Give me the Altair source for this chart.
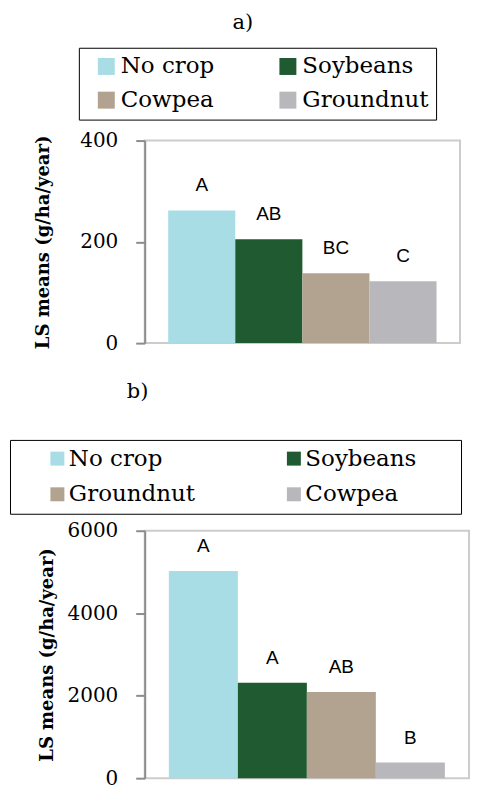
import altair as alt
import pandas as pd

# ---- data ----
crops_a = ["No crop", "Soybeans", "Cowpea", "Groundnut"]
means_a = [262, 205, 138, 122]
letters_a = ["A", "AB", "BC", "C"]

crops_b = ["No crop", "Soybeans", "Groundnut", "Cowpea"]
means_b = [5025, 2315, 2090, 380]
letters_b = ["A", "A", "AB", "B"]

ticks_a = [0, 200, 400]
ticks_b = [0, 2000, 4000, 6000]

palette = ["#a9dde6", "#1f5a31", "#b1a390", "#b8b8bc"]

SERIF = "DejaVu Serif"
SANS = "Liberation Sans"
YTITLE = "LS means (g/ha/year)"


def panel(crops, means, letters, ymax, ticks, width, height, title, title_dx,
          title_offset, leg_x, leg_y, sym_off, col_pad, sym_size, lab_off,
          title_pad, row_pad, wide_box):
    df = pd.DataFrame({"crop": crops, "mean": means, "letter": letters})
    # legend is filled column by column: reorder so it reads row by row
    leg_order = [crops[0], crops[2], crops[1], crops[3]]
    leg_colors = [palette[0], palette[2], palette[1], palette[3]]
    x = alt.X("crop:N", sort=crops, axis=None,
              scale=alt.Scale(paddingInner=0, paddingOuter=0.35))
    y = alt.Y("mean:Q", scale=alt.Scale(domain=[0, ymax], nice=False),
              axis=alt.Axis(values=ticks, format="d", title=YTITLE,
                            titleFont=SERIF, titleFontSize=18,
                            titleFontWeight="bold", titleColor="black",
                            titlePadding=title_pad,
                            labelFont=SERIF, labelFontSize=20,
                            labelColor="black", labelPadding=18,
                            tickSize=9, tickWidth=2, tickColor="#8c8c8c",
                            domainColor="#8c8c8c", domainWidth=2,
                            grid=False))
    leg_kw = dict(orient="none", legendX=leg_x, legendY=leg_y, columns=2,
                  symbolType="square", symbolSize=sym_size,
                  symbolStrokeWidth=0, symbolOpacity=1, symbolOffset=sym_off,
                  labelFont=SERIF, labelFontSize=23, labelColor="black",
                  labelOffset=lab_off, labelLimit=700, columnPadding=col_pad,
                  rowPadding=row_pad, padding=7, strokeColor="black")
    if wide_box:
        # invisible spacer title widens the frame towards the page edge
        leg_kw.update(title="M", titleOrient="right", titleOpacity=0,
                      titleFont=SERIF, titleFontSize=23, titlePadding=12)
    else:
        leg_kw.update(title=None)
    color = alt.Color("crop:N",
                      scale=alt.Scale(domain=leg_order, range=leg_colors),
                      legend=alt.Legend(**leg_kw))
    bars = alt.Chart(df).mark_bar(opacity=1).encode(x=x, y=y, color=color)
    text = alt.Chart(df).mark_text(baseline="bottom", dy=-15, font=SANS,
                                   fontSize=19, color="black").encode(
        x=x, y="mean:Q", text="letter:N")
    return alt.layer(bars, text).properties(
        width=width, height=height,
        title=alt.TitleParams(title, anchor="start", frame="group",
                              dx=title_dx, offset=title_offset, font=SERIF,
                              fontSize=21, fontWeight="normal",
                              color="black"))


pa = panel(crops_a, means_a, letters_a, 400, ticks_a, 316, 203, "a)", 88,
           14, -66, -93, 9, 53, 289, 3, 27, 10, False)
pb = panel(crops_b, means_b, letters_b, 6000, ticks_b, 325, 248, "b)", -18,
           38, -135, -91, 29, 58, 196, 0, 11, 12, True)

chart = alt.vconcat(pa, pb, spacing=25).resolve_scale(
    color="independent").properties(
    padding={"left": 0, "top": 2, "right": 0, "bottom": 0}).configure_view(
    stroke="#cccccc", strokeWidth=2).configure_concat(spacing=25)

chart.save("out.html", embed_options={"renderer": "svg", "actions": False})
